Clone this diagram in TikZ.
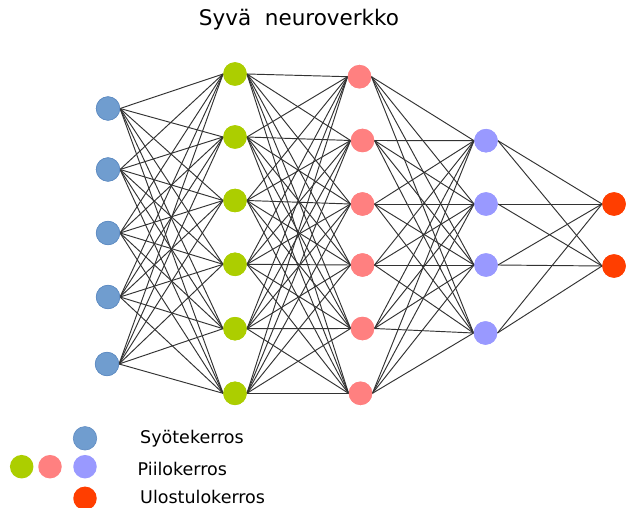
\documentclass[tikz,border=0pt]{standalone}
\usepackage{fontspec}
\setmainfont{DejaVu Sans}
\definecolor{cin}{RGB}{112,157,207}
\definecolor{cinb}{RGB}{95,140,195}
\definecolor{chone}{RGB}{172,206,0}
\definecolor{chtwo}{RGB}{255,128,128}
\definecolor{chthree}{RGB}{153,153,255}
\definecolor{cout}{RGB}{255,62,0}
\tikzset{
  neuron/.style={circle,inner sep=0pt,minimum size=23.5pt},
  inn/.style={neuron,fill=cin,draw=cinb,line width=0.6pt},
  hone/.style={neuron,fill=chone},
  htwo/.style={neuron,fill=chtwo},
  hthree/.style={neuron,fill=chthree},
  outn/.style={neuron,fill=cout},
  conn/.style={draw=black!80,line width=0.95pt},
  legtext/.style={anchor=base west,inner sep=0pt,font=\fontsize{17.5}{20}\selectfont},
}
\begin{document}
\begin{tikzpicture}[x=1pt,y=-1pt]
\useasboundingbox (0,0) rectangle (643,508);
\fill[white] (0,0) rectangle (643,508);
% input layer
\node[inn] (a1) at (108,108.5) {};
\node[inn] (a2) at (108,169.5) {};
\node[inn] (a3) at (108,233) {};
\node[inn] (a4) at (108,297) {};
\node[inn] (a5) at (107,364) {};
% hidden 1
\node[hone] (b1) at (235,74) {};
\node[hone] (b2) at (235,137) {};
\node[hone] (b3) at (235,200.5) {};
\node[hone] (b4) at (235,264.3) {};
\node[hone] (b5) at (235,328.7) {};
\node[hone] (b6) at (235,393.3) {};
% hidden 2
\node[htwo] (c1) at (359.5,76.7) {};
\node[htwo] (c2) at (362.5,140.5) {};
\node[htwo] (c3) at (362.5,204) {};
\node[htwo] (c4) at (362.5,265) {};
\node[htwo] (c5) at (362.5,328.5) {};
\node[htwo] (c6) at (360.5,393.3) {};
% hidden 3
\node[hthree] (d1) at (486,140.7) {};
\node[hthree] (d2) at (486,204) {};
\node[hthree] (d3) at (486,265) {};
\node[hthree] (d4) at (485.5,333) {};
% output
\node[outn] (e1) at (614,204) {};
\node[outn] (e2) at (614,266) {};
% connections
\foreach \i in {1,...,5}{\foreach \j in {1,...,6}{\draw[conn] (a\i.east) -- (b\j.west);}}
\foreach \i in {1,...,6}{\foreach \j in {1,...,6}{\draw[conn] (b\i.east) -- (c\j.west);}}
\foreach \i in {1,...,6}{\foreach \j in {1,...,4}{\draw[conn] (c\i.east) -- (d\j.west);}}
\foreach \i in {1,...,4}{\foreach \j in {1,...,2}{\draw[conn] (d\i.east) -- (e\j.west);}}
% redraw nodes on top
\foreach \n in {a1,a2,a3,a4,a5}{\node[inn] at (\n) {};}
\foreach \n in {b1,b2,b3,b4,b5,b6}{\node[hone] at (\n) {};}
\foreach \n in {c1,c2,c3,c4,c5,c6}{\node[htwo] at (\n) {};}
\foreach \n in {d1,d2,d3,d4}{\node[hthree] at (\n) {};}
\foreach \n in {e1,e2}{\node[outn] at (\n) {};}
% title
\node[font=\fontsize{21.5}{24}\selectfont,inner sep=0pt] (title) at (299,20) {Syvä\ \ neuroverkko};
% legend
\node[inn] (l1) at (85,438.3) {};
\node[hone] (l2) at (21.7,466.7) {};
\node[htwo] (l3) at (50,466.7) {};
\node[hthree] (l4) at (85,466.7) {};
\node[outn] (l5) at (85,498.3) {};
\node[legtext] (t1) at (140,443.3) {Syötekerros};
\node[legtext] (t2) at (137.5,475) {Piilokerros};
\node[legtext] (t3) at (140,503) {Ulostulokerros};
\end{tikzpicture}
\end{document}
